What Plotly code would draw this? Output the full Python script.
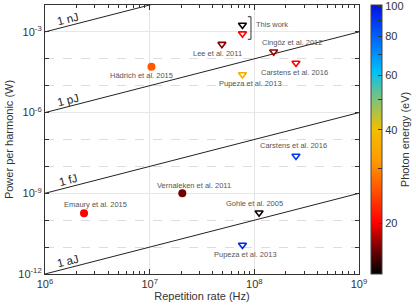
import numpy as np
import plotly.graph_objects as go

# ---- data ----
refs = ["This work", "This work", "Lee et al. 2011", "Cingöz et al. 2012", "Carstens et al. 2016",
        "Pupeza et al. 2013", "Hädrich et al. 2015", "Carstens et al. 2016", "Vernaleken et al. 2011",
        "Emaury et al. 2015", "Gohle et al. 2005", "Pupeza et al. 2013"]
rep_rate = [7.7e7, 7.7e7, 4.9e7, 1.53e8, 2.5e8, 7.7e7, 1.04e7, 2.5e8, 2.05e7, 2.36e6, 1.11e8, 7.7e7]
power = [1.8e-3, 8.6e-4, 3.5e-4, 1.84e-4, 7.0e-5, 2.6e-5, 5.1e-5, 2.45e-8, 1.0e-9, 1.8e-10, 1.9e-10, 1.2e-11]
photon_energy = [14, 20, 17, 17.5, 20, 35, 26, 90, 16.5, 20, 14, 95]
marker_kind = ["tri", "tri", "tri", "tri", "tri", "tri", "circ", "tri", "circ", "circ", "tri", "tri"]
# label offsets in pixels (dx, dy) relative to the marker
label_dx = [None, None, -4, 18, -1, 8, -10, -2, 12, 11, -5, 3]
label_dy = [None, None, -9, 9, -10, -9, -9, 10, 8, 9, 9, -10]

pulse_energy = [1e-9, 1e-12, 1e-15, 1e-18]
pulse_label = ["1 nJ", "1 pJ", "1 fJ", "1 aJ"]

x_ticks = [1e6, 1e7, 1e8, 1e9]
x_ticktext = ["10<sup>6</sup>", "10<sup>7</sup>", "10<sup>8</sup>", "10<sup>9</sup>"]
y_major = [1e-12, 1e-9, 1e-6, 1e-3]
y_ticktext = ["10<sup>-12</sup>", "10<sup>-9</sup>", "10<sup>-6</sup>", "10<sup>-3</sup>"]
y_minor = [1e-11, 1e-10, 1e-8, 1e-7, 1e-5, 1e-4]
cbar_ticks = [20, 30, 40, 50, 60, 70, 80, 90, 100]
cbar_text = ["20", "", "40", "", "60", "", "80", "", "100"]
e_min, e_max = 13.7, 101

colorscale = [[0, "#000000"], [0.1, "#7a0000"], [0.19, "#ff0000"], [0.3, "#ff4a00"],
              [0.42, "#ff9a00"], [0.54, "#f0c000"], [0.62, "#9cc25a"], [0.68, "#5ec29a"],
              [0.75, "#00c2f5"], [0.86, "#0070ff"], [1.0, "#0010e8"]]

FONT = "Liberation Sans, Arial, sans-serif"
fig = go.Figure()

# pulse energy lines
xl = np.array([1e6, 1e9])
for E, lab in zip(pulse_energy, pulse_label):
    fig.add_trace(go.Scatter(x=xl, y=E * xl, mode="lines", line=dict(color="#222", width=1),
                             showlegend=False, hoverinfo="skip"))
    fig.add_annotation(x=np.log10(1.66e6), y=np.log10(E * 1.66e6), text=lab, showarrow=False,
                       textangle=-14.4, yshift=7, font=dict(size=11.5, color="#222", family=FONT))

logE = np.log10(photon_energy)
cmin, cmax = np.log10(e_min), np.log10(e_max)
idx_t = [i for i, k in enumerate(marker_kind) if k == "tri"]
idx_c = [i for i, k in enumerate(marker_kind) if k == "circ"]

fig.add_trace(go.Scatter(
    x=[rep_rate[i] for i in idx_c], y=[power[i] for i in idx_c], mode="markers",
    marker=dict(symbol="circle", size=8, color=[logE[i] for i in idx_c], colorscale=colorscale,
                cmin=cmin, cmax=cmax, line=dict(width=0)),
    showlegend=False))
fig.add_trace(go.Scatter(
    x=[rep_rate[i] for i in idx_t], y=[power[i] for i in idx_t], mode="markers",
    marker=dict(symbol="triangle-down-open", size=7, color=[logE[i] for i in idx_t],
                colorscale=colorscale, cmin=cmin, cmax=cmax, line=dict(width=1.6),
                colorbar=dict(x=1.038, xanchor="left", y=0, yanchor="bottom", len=1, lenmode="fraction",
                              ypad=0, xpad=0, thickness=11, outlinewidth=1, outlinecolor="#444",
                              tickvals=[float(v) for v in np.log10(cbar_ticks)], ticktext=cbar_text,
                              tickmode="array", ticklabeloverflow="allow",
                              ticks="inside", ticklen=4, tickcolor="#333",
                              tickfont=dict(size=11, color="#333", family=FONT),
                              title=dict(text="Photon energy (eV)", side="right",
                                         font=dict(size=11, color="#333", family=FONT)))),
    showlegend=False))

# labels
for i, r in enumerate(refs):
    if label_dx[i] is None:
        continue
    fig.add_annotation(x=np.log10(rep_rate[i]), y=np.log10(power[i]), text=r, showarrow=False,
                       xshift=label_dx[i], yshift=label_dy[i],
                       font=dict(size=7.5, color="#555", family=FONT))
fig.add_annotation(x=np.log10(rep_rate[0]), y=np.log10(power[0]), text="This work", showarrow=False,
                   xanchor="left", xshift=12, yshift=1, font=dict(size=7.5, color="#555", family=FONT))

# bracket for "This work"
bx, bl, bt, bb = 0.656, 0.646, 0.9565, 0.8725
fig.add_shape(type="path", xref="paper", yref="paper",
              path=f"M {bl} {bt} L {bx} {bt} L {bx} {bb} L {bl} {bb}",
              line=dict(color="#333", width=1))

fig.update_layout(
    width=416, height=306, margin=dict(l=45, r=57, t=5, b=32, autoexpand=False),
    paper_bgcolor="white", plot_bgcolor="white", font=dict(family=FONT, color="#333"),
    xaxis=dict(type="log", range=[6, 9], tickvals=x_ticks, ticktext=x_ticktext,
               ticks="inside", ticklen=5, tickcolor="#333", showline=True, linecolor="#333",
               linewidth=1.2, mirror="allticks", showgrid=True, gridcolor="#e4e4e4", gridwidth=1,
               zeroline=False, tickfont=dict(size=11, color="#333"), automargin=False,
               minor=dict(tickvals=[m * d for d in [1e6, 1e7, 1e8] for m in range(2, 10)],
                          ticks="inside", ticklen=3, tickcolor="#333", showgrid=False),
               title=dict(text="Repetition rate (Hz)", font=dict(size=11, color="#333"), standoff=2)),
    yaxis=dict(type="log", range=[-12, -2], tickvals=y_major, ticktext=y_ticktext,
               ticks="inside", ticklen=4, tickcolor="#333", showline=True, linecolor="#333",
               linewidth=1.2, mirror="allticks", showgrid=True, gridcolor="#e8e8e8", gridwidth=1,
               zeroline=False, tickfont=dict(size=11, color="#333"), automargin=False,
               minor=dict(tickvals=y_minor, ticks="inside", ticklen=4, tickcolor="#333",
                          showgrid=True, gridcolor="#dcdcdc", griddash="dash", gridwidth=1),
               title=dict(text="Power per harmonic (W)", font=dict(size=11, color="#333"), standoff=2)),
)

fig.write_html("out.html", config={"displayModeBar": False},
               post_script="document.body.style.margin='0';")
